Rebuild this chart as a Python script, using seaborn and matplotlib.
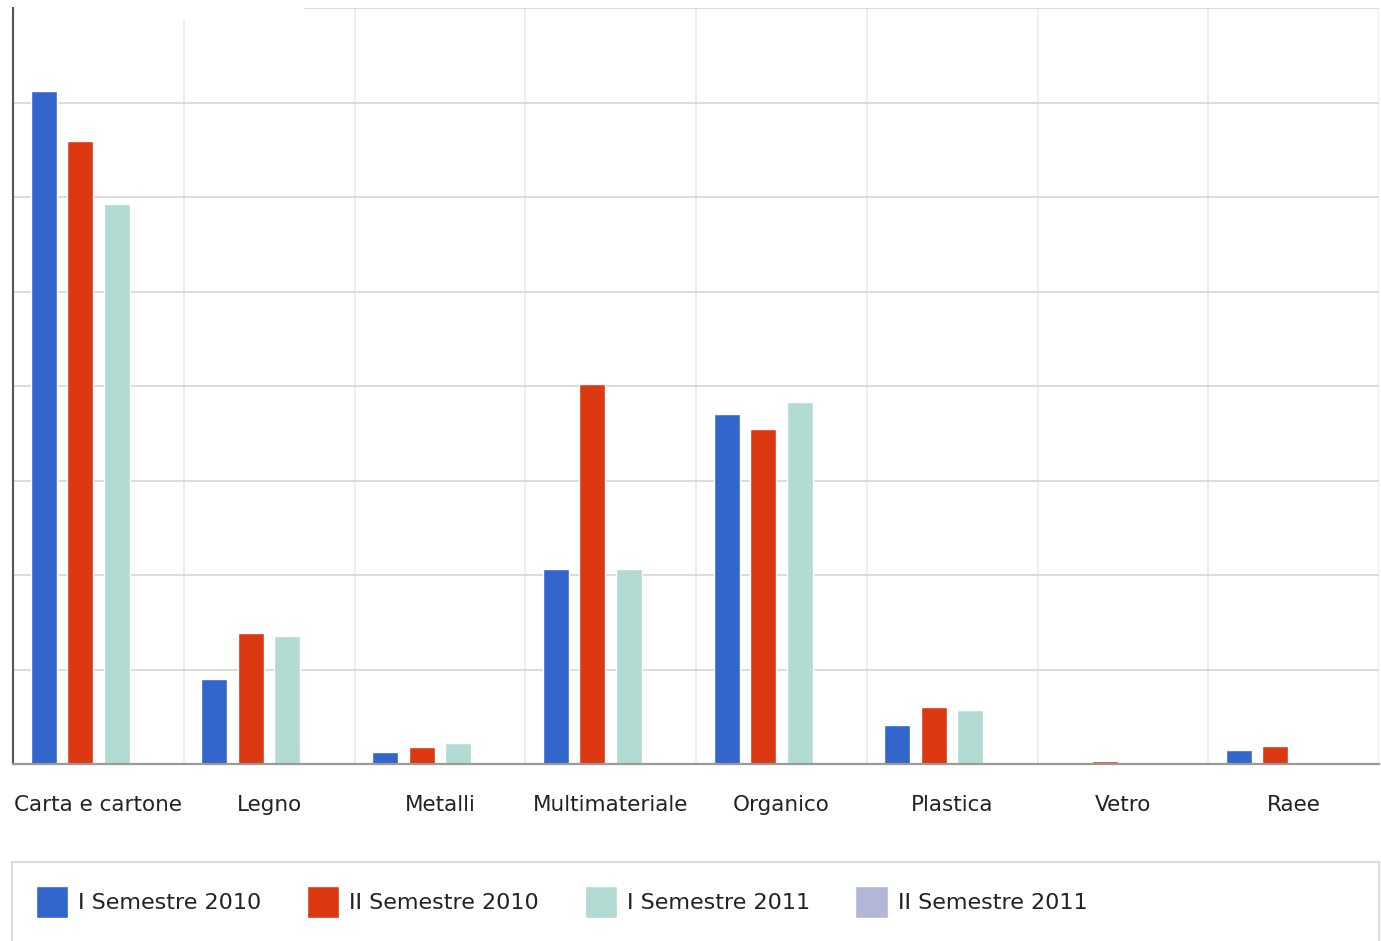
import pandas as pd
import seaborn as sns
import matplotlib.pyplot as plt
from matplotlib.patches import Rectangle

# Data (in gridline units)
categories = ['Carta e cartone', 'Legno', 'Metalli', 'Multimateriale',
              'Organico', 'Plastica', 'Vetro', 'Raee']
series = ['I Semestre 2010', 'II Semestre 2010', 'I Semestre 2011', 'II Semestre 2011']
sem1_2010 = [7.12, 0.90, 0.13, 2.06, 3.70, 0.41, 0.00, 0.15]
sem2_2010 = [6.59, 1.39, 0.18, 4.02, 3.54, 0.60, 0.03, 0.19]
sem1_2011 = [5.93, 1.35, 0.22, 2.06, 3.83, 0.57, 0.02, 0.00]
sem2_2011 = [0.00, 0.00, 0.00, 0.00, 0.00, 0.00, 0.00, 0.00]
colors = ['#3366CC', '#DC3912', '#B2DCD3', '#B3B6D9']

rows = []
for name, vals in zip(series, [sem1_2010, sem2_2010, sem1_2011, sem2_2011]):
    for cat, v in zip(categories, vals):
        rows.append({'categoria': cat, 'serie': name, 'valore': v})
df = pd.DataFrame(rows)

sns.set_style('white')
plt.rcParams['font.family'] = ['DejaVu Sans']

W, H = 1381, 941
fig = plt.figure(figsize=(W / 100, H / 100), dpi=100)
ax = fig.add_axes([13 / W, 1 - 764 / H, (1379 - 13) / W, (764 - 8) / H])

sns.barplot(data=df, x='categoria', y='valore', hue='serie', order=categories,
            hue_order=series, palette=colors, saturation=1, width=0.855, gap=0.29,
            ax=ax, legend=True)

ax.set_xlim(-0.5, 7.5)
ax.set_ylim(0, 8)
ax.set_yticks(range(9))
ax.set_yticklabels([])
ax.set_xticks([i - 0.5 for i in range(9)], minor=True)
ax.tick_params(axis='both', which='both', length=0)
ax.tick_params(axis='x', which='major', pad=22, labelsize=15.5, labelcolor='#222222')
ax.set_xlabel('')
ax.set_ylabel('')
ax.set_axisbelow(True)
ax.grid(axis='y', which='major', color='#d9d9d9', linewidth=1.3)
ax.grid(axis='x', which='minor', color='#ebebeb', linewidth=1.2)

for side in ['top', 'right']:
    ax.spines[side].set_visible(False)
ax.spines['left'].set_color('#555555')
ax.spines['left'].set_linewidth(1.5)
ax.spines['bottom'].set_color('#999999')
ax.spines['bottom'].set_linewidth(1.6)

# white patch over the top-left corner of the grid (as in the screenshot)
ax.add_patch(Rectangle((14.5 / W, 1 - 20 / H), (304 - 14.5) / W, 20 / H,
                       transform=fig.transFigure, facecolor='white', edgecolor='none',
                       zorder=1, clip_on=False))

# legend in a framed box at the bottom
handles, labels = ax.get_legend_handles_labels()
ax.get_legend().remove()
fig.patches.append(Rectangle((12 / W, -10 / H), (1379 - 12) / W, (941 - 862 + 10) / H,
                             transform=fig.transFigure, facecolor='none',
                             edgecolor='#dddddd', linewidth=1.5))
fig.legend(handles, labels, loc='center left', bbox_to_anchor=(36 / W, 1 - 902 / H),
           ncol=4, frameon=False, fontsize=16, handlelength=1.45, handleheight=1.85,
           handletextpad=0.45, columnspacing=2.05, borderpad=0, borderaxespad=0,
           labelcolor='#222222')

plt.savefig('out.png', dpi=100)
